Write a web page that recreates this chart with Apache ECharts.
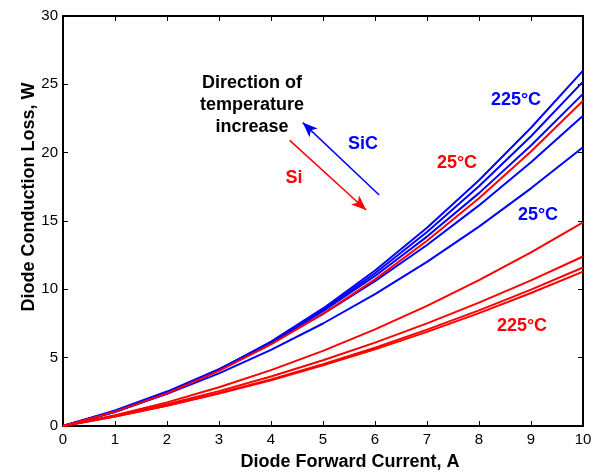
<!DOCTYPE html>
<html>
<head>
<meta charset="utf-8">
<script src="https://cdn.jsdelivr.net/npm/echarts@6/dist/echarts.min.js"></script>
<style>
  html, body { margin: 0; padding: 0; background: #ffffff; }
  #chart { width: 596px; height: 474px; }
</style>
</head>
<body>
<div id="chart"></div>
<script>
// Diode forward current, A
const current = [0, 1, 2, 3, 4, 5, 6, 7, 8, 9, 10];

// SiC diode conduction loss, W (highest temperature first)
const sic225 = [0, 1.02, 2.38, 4.10, 6.18, 8.60, 11.38, 14.50, 17.98, 21.82, 26.0];
const sicB   = [0, 1.04, 2.42, 4.12, 6.14, 8.50, 11.18, 14.20, 17.54, 21.20, 25.2];
const sicC   = [0, 1.08, 2.46, 4.14, 6.12, 8.40, 10.98, 13.86, 17.04, 20.52, 24.3];
const sicD   = [0, 1.14, 2.52, 4.16, 6.06, 8.20, 10.60, 13.24, 16.14, 19.30, 22.7];
const sic25  = [0, 1.07, 2.35, 3.85, 5.57, 7.50, 9.65, 12.01, 14.59, 17.39, 20.4];

// Si diode conduction loss, W (lowest temperature first)
const si25  = [0, 1.05, 2.39, 4.03, 5.97, 8.20, 10.73, 13.55, 16.67, 20.09, 23.8];
const siB   = [0, 0.79, 1.73, 2.83, 4.09, 5.50, 7.07, 8.79, 10.67, 12.71, 14.9];
const siC   = [0, 0.74, 1.59, 2.55, 3.62, 4.81, 6.10, 7.51, 9.03, 10.66, 12.4];
const siD   = [0, 0.70, 1.50, 2.41, 3.41, 4.52, 5.73, 7.05, 8.46, 9.98, 11.6];
const si225 = [0, 0.69, 1.48, 2.37, 3.35, 4.44, 5.61, 6.89, 8.26, 9.73, 11.3];

const xTicks = [0, 1, 2, 3, 4, 5, 6, 7, 8, 9, 10];
const yTicks = [0, 5, 10, 15, 20, 25, 30];

// Arrow end points (current, loss) showing the temperature trend
const sicArrow = [[6.08, 16.9], [4.61, 22.2]];
const siArrow  = [[4.36, 20.9], [5.83, 15.8]];

const BLUE = '#0000ff';
const RED = '#ff0000';
const FONT = '"Liberation Sans", Arial, Helvetica, sans-serif';

function pairs(ys) { return current.map((x, i) => [x, ys[i]]); }

function lineSeries(name, ys, color) {
  return {
    name: name,
    type: 'line',
    data: pairs(ys),
    showSymbol: false,
    symbol: 'none',
    smooth: false,
    lineStyle: { color: color, width: 2 },
    itemStyle: { color: color },
    animation: false,
    silent: true,
    z: 3
  };
}

function arrowSeries(pts, color) {
  return {
    type: 'line',
    data: [],
    silent: true,
    animation: false,
    markLine: {
      silent: true,
      animation: false,
      symbol: ['none', 'arrow'],
      symbolSize: [9, 15],
      label: { show: false },
      lineStyle: { color: color, width: 1.5, type: 'solid' },
      emphasis: { disabled: true },
      data: [[{ coord: pts[0] }, { coord: pts[1] }]]
    }
  };
}

const axisCommon = {
  type: 'value',
  axisLine: { show: true, onZero: false, lineStyle: { color: '#000', width: 2 } },
  axisTick: { show: true, inside: true, length: 5, lineStyle: { color: '#000', width: 1 } },
  splitLine: { show: false }
};

const xRange = { min: xTicks[0], max: xTicks[xTicks.length - 1], interval: xTicks[1] - xTicks[0] };
const yRange = { min: yTicks[0], max: yTicks[yTicks.length - 1], interval: yTicks[1] - yTicks[0] };

const chart = echarts.init(document.getElementById('chart'), null, { renderer: 'canvas' });

chart.setOption({
  backgroundColor: '#ffffff',
  animation: false,
  textStyle: { fontFamily: FONT },
  grid: { left: 63, right: 13, top: 16, bottom: 48, containLabel: false },
  xAxis: [
    Object.assign({}, axisCommon, xRange, {
      position: 'bottom',
      axisLabel: { color: '#000', fontSize: 15, fontFamily: FONT, margin: 6 }
    }),
    Object.assign({}, axisCommon, xRange, {
      position: 'top',
      axisLabel: { show: false }
    })
  ],
  yAxis: [
    Object.assign({}, axisCommon, yRange, {
      position: 'left',
      axisLabel: { color: '#000', fontSize: 15, fontFamily: FONT, margin: 5 }
    }),
    Object.assign({}, axisCommon, yRange, {
      position: 'right',
      axisLabel: { show: false }
    })
  ],
  series: [
    lineSeries('SiC 25°C', sic25, BLUE),
    lineSeries('SiC', sicD, BLUE),
    lineSeries('SiC', sicC, BLUE),
    lineSeries('SiC', sicB, BLUE),
    lineSeries('SiC 225°C', sic225, BLUE),
    lineSeries('Si 225°C', si225, RED),
    lineSeries('Si', siD, RED),
    lineSeries('Si', siC, RED),
    lineSeries('Si', siB, RED),
    lineSeries('Si 25°C', si25, RED),
    arrowSeries(sicArrow, BLUE),
    arrowSeries(siArrow, RED)
  ],
  graphic: [
    { type: 'text', x: 350, y: 462, style: { text: 'Diode Forward Current, A', font: 'bold 18px ' + FONT, fill: '#000', align: 'center', verticalAlign: 'middle' } },
    { type: 'text', x: 29, y: 197, rotation: Math.PI / 2, style: { text: 'Diode Conduction Loss, W', font: 'bold 18px ' + FONT, fill: '#000', align: 'center', verticalAlign: 'middle' } },
    { type: 'text', x: 252, y: 83, style: { text: 'Direction of', font: 'bold 18px ' + FONT, fill: '#000', align: 'center', verticalAlign: 'middle' } },
    { type: 'text', x: 252, y: 105, style: { text: 'temperature', font: 'bold 18px ' + FONT, fill: '#000', align: 'center', verticalAlign: 'middle' } },
    { type: 'text', x: 252, y: 127, style: { text: 'increase', font: 'bold 18px ' + FONT, fill: '#000', align: 'center', verticalAlign: 'middle' } },
    { type: 'text', x: 363, y: 144, style: { text: 'SiC', font: 'bold 18px ' + FONT, fill: BLUE, align: 'center', verticalAlign: 'middle' } },
    { type: 'text', x: 294, y: 178, style: { text: 'Si', font: 'bold 18px ' + FONT, fill: RED, align: 'center', verticalAlign: 'middle' } },
    { type: 'text', x: 516, y: 100, style: { text: '225°C', font: 'bold 18px ' + FONT, fill: BLUE, align: 'center', verticalAlign: 'middle' } },
    { type: 'text', x: 457, y: 163, style: { text: '25°C', font: 'bold 18px ' + FONT, fill: RED, align: 'center', verticalAlign: 'middle' } },
    { type: 'text', x: 538, y: 215, style: { text: '25°C', font: 'bold 18px ' + FONT, fill: BLUE, align: 'center', verticalAlign: 'middle' } },
    { type: 'text', x: 522, y: 326, style: { text: '225°C', font: 'bold 18px ' + FONT, fill: RED, align: 'center', verticalAlign: 'middle' } }
  ]
});
</script>
</body>
</html>
